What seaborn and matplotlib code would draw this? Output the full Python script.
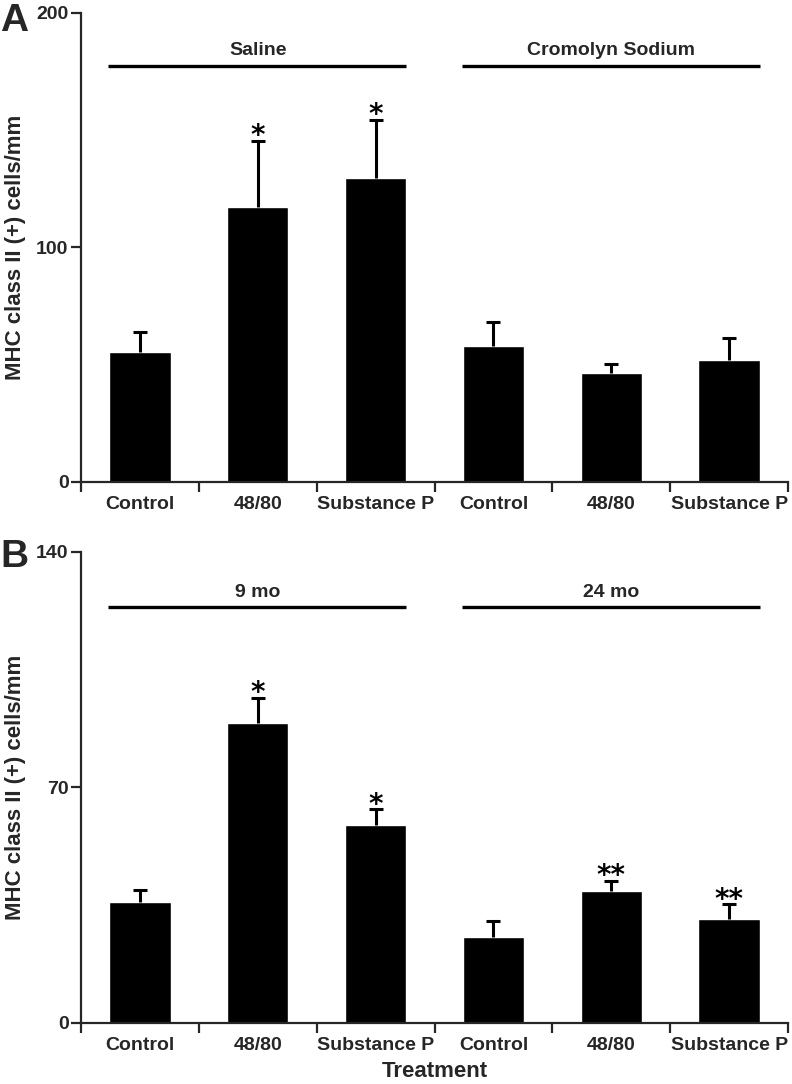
import numpy as np
import pandas as pd
import matplotlib
matplotlib.use("Agg")
import matplotlib.pyplot as plt
import seaborn as sns

# ---------------- data ----------------
tick_labels = ["Control", "48/80", "Substance P", "Control", "48/80", "Substance P"]

a_groups = ["Saline", "Cromolyn Sodium"]
a_means = [55.5, 117.4, 129.5, 57.9, 46.3, 52.2]
a_sem = [8.3, 28.0, 25.0, 10.2, 3.8, 9.1]
a_stars = ["", "*", "*", "", "", ""]

b_groups = ["9 mo", "24 mo"]
b_means = [35.9, 89.2, 58.7, 25.5, 39.1, 30.8]
b_sem = [3.6, 7.4, 4.8, 4.7, 3.1, 4.5]
b_stars = ["", "*", "*", "", "**", "**"]

y_label = "MHC class II (+) cells/mm"
x_label = "Treatment"

# ---------------- style ----------------
sns.set_style("ticks")
plt.rcParams["font.family"] = ["Liberation Sans", "DejaVu Sans"]
plt.rcParams["font.weight"] = "bold"
plt.rcParams["axes.labelweight"] = "bold"


def draw_panel(ax, means, sem, stars, groups, ymax, line_y, label_y):
    df = pd.DataFrame({"key": [str(i) for i in range(len(means))], "value": means})
    sns.barplot(data=df, x="key", y="value", color="black", saturation=1,
                width=0.52, errorbar=None, ax=ax)
    x = np.arange(len(means))
    cont = ax.errorbar(x, means, yerr=[np.zeros(len(sem)), sem], fmt="none",
                       ecolor="black", elinewidth=2.2, capsize=5, capthick=2.2)
    caps = cont.lines[1]
    if len(caps) == 2:
        caps[0].remove()  # drop the lower cap (sits on the bar top)
    for i, s in enumerate(stars):
        if s:
            ax.annotate(s, xy=(i, means[i] + sem[i]), xytext=(0, -2.5),
                        textcoords="offset points", ha="center", va="baseline",
                        fontsize=20, fontweight="bold", family="DejaVu Sans",
                        color="black")
    # group bars
    for g, name in enumerate(groups):
        first, last = g * 3, g * 3 + 2
        ax.plot([first - 0.27, last + 0.26], [line_y, line_y], color="black",
                lw=2.4, solid_capstyle="butt")
        ax.text((first + last) / 2, label_y, name, ha="center", va="center",
                fontsize=14, fontweight="bold")
    ax.set_xlim(-0.5, len(means) - 0.5)
    ax.set_ylim(0, ymax)
    ax.set_yticks([0, ymax / 2, ymax])
    ax.set_yticklabels([f"{v:g}" for v in [0, ymax / 2, ymax]])
    ax.set_xticks(x)
    ax.set_xticklabels(tick_labels)
    ax.set_xticks(np.arange(-0.5, len(means), 1), minor=True)
    ax.tick_params(axis="x", which="major", length=0, pad=10, labelsize=14)
    ax.tick_params(axis="x", which="minor", length=7, width=1.6, direction="out")
    ax.tick_params(axis="y", which="major", length=7, width=1.6, direction="out",
                   pad=2, labelsize=14)
    for lab in ax.get_xticklabels() + ax.get_yticklabels():
        lab.set_fontweight("bold")
    sns.despine(ax=ax)
    for sp in ["left", "bottom"]:
        ax.spines[sp].set_linewidth(1.6)
    ax.set_xlabel("")
    ax.set_ylabel(y_label, fontsize=16, fontweight="bold", labelpad=7)


fig = plt.figure(figsize=(7.92, 10.84), dpi=100)
axA = fig.add_axes([0.1023, 0.5554, 0.8927, 0.4327])
axB = fig.add_axes([0.1023, 0.0563, 0.8927, 0.4345])

draw_panel(axA, a_means, a_sem, a_stars, a_groups, 200, 177.4, 184)
draw_panel(axB, b_means, b_sem, b_stars, b_groups, 140, 123.5, 128)
axB.set_xlabel(x_label, fontsize=16, fontweight="bold", labelpad=5)

fig.text(0.0, 1 - 3 / 1084, "A", fontsize=28, fontweight="bold", ha="left", va="top")
fig.text(0.0, 1 - 539 / 1084, "B", fontsize=28, fontweight="bold", ha="left", va="top")

fig.savefig("out.png", dpi=100)
